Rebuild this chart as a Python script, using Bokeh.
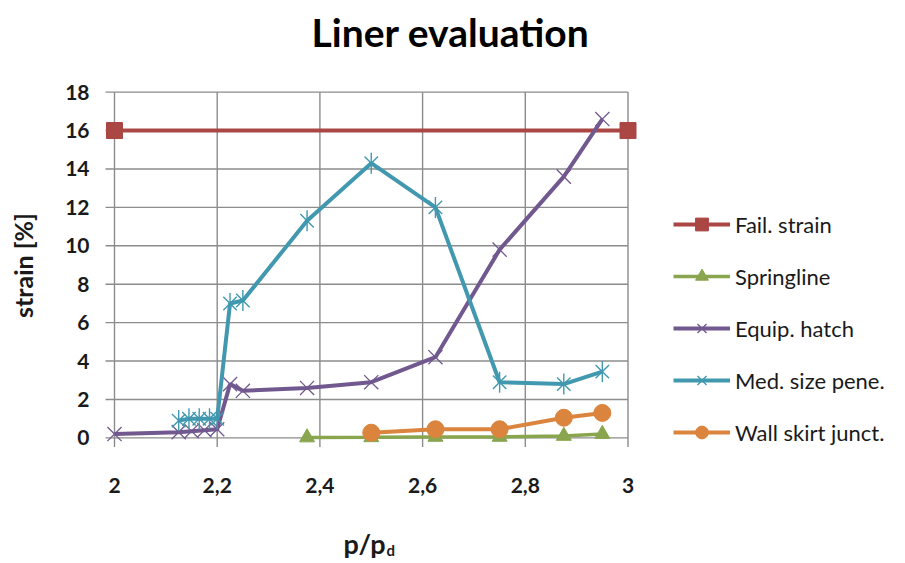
from bokeh.plotting import figure
from bokeh.models import Range1d, Label, Legend, LegendItem
from bokeh.core.properties import value
from bokeh.embed import file_html
from bokeh.resources import INLINE
import math

# ---------------- data ----------------
x_ticks = [2.0, 2.2, 2.4, 2.6, 2.8, 3.0]
x_tick_labels = ["2", "2,2", "2,4", "2,6", "2,8", "3"]
y_ticks = [0, 2, 4, 6, 8, 10, 12, 14, 16, 18]
y_tick_labels = ["0", "2", "4", "6", "8", "10", "12", "14", "16", "18"]

fail_x = [2.0, 3.0]
fail_y = [16.0, 16.0]

spring_x = [2.375, 2.5, 2.625, 2.75, 2.875, 2.95]
spring_y = [0.02, 0.03, 0.05, 0.05, 0.1, 0.2]

hatch_x = [2.0, 2.125, 2.15, 2.175, 2.2, 2.225, 2.25, 2.375, 2.5, 2.625, 2.75, 2.875, 2.95]
hatch_y = [0.2, 0.3, 0.35, 0.4, 0.45, 2.8, 2.45, 2.6, 2.9, 4.2, 9.8, 13.6, 16.6]

pene_x = [2.125, 2.145, 2.165, 2.185, 2.2, 2.225, 2.25, 2.375, 2.5, 2.625, 2.75, 2.875, 2.95]
pene_y = [0.9, 1.0, 1.0, 1.0, 1.0, 7.0, 7.15, 11.3, 14.3, 12.0, 2.9, 2.8, 3.45]

wall_x = [2.5, 2.625, 2.75, 2.875, 2.95]
wall_y = [0.27, 0.45, 0.45, 1.05, 1.3]

series_names = ["Fail. strain", "Springline", "Equip. hatch", "Med. size pene.", "Wall skirt junct."]
title_text = "Liner evaluation"
y_title = "strain [%]"
x_title_main = "p/p"
x_title_sub = "d"

# ---------------- styles ----------------
RED = "#AA4643"
GREEN = "#89A54E"
PURPLE = "#71588F"
CYAN = "#4198AF"
ORANGE = "#DB843D"
GRID = "#8C8C8C"
TXT = "#1a1a1a"
FONT = "Lato"

W, H = 905, 563
PX_X = 513.5   # pixels per x unit
PX_Y = 19.21   # pixels per y unit
X0_PX = 114.0  # pixel column of x = 2
Y0_PX = 437.4  # pixel row of y = 0


def dx(px):
    """pixel column -> data x"""
    return x_ticks[0] + (px - X0_PX) / PX_X


def dy(py):
    """pixel row -> data y"""
    return y_ticks[0] + (Y0_PX - py) / PX_Y


# the frame covers the whole canvas; axes are drawn by hand so nothing is clipped
p = figure(width=W, height=H, min_border=0,
           x_range=Range1d(dx(0), dx(W)), y_range=Range1d(dy(H), dy(0)),
           x_axis_location=None, y_axis_location=None,
           output_backend="svg", toolbar_location=None)
p.outline_line_color = None
p.xgrid.visible = False
p.ygrid.visible = False
p.background_fill_color = "white"
p.border_fill_color = "white"

# grid lines over the data box with short tick stubs outside it
nx = len(x_ticks)
ny = len(y_ticks)
stub_y = 9 / PX_Y
stub_x = 9 / PX_X
p.segment(x0=x_ticks, y0=[y_ticks[0] - stub_y] * nx, x1=x_ticks, y1=[y_ticks[-1]] * nx,
          line_color=GRID, line_width=1.4)
p.segment(x0=[x_ticks[0] - stub_x] * ny, y0=y_ticks, x1=[x_ticks[-1]] * ny, y1=y_ticks,
          line_color=GRID, line_width=1.4)

# tick labels
p.text(x=x_ticks, y=[dy(485)] * nx, text=x_tick_labels,
       text_align="center", text_baseline="middle",
       text_font=value(FONT), text_font_style="bold", text_font_size="21px", text_color=TXT)
p.text(x=[dx(89)] * ny, y=y_ticks, text=y_tick_labels,
       text_align="right", text_baseline="middle",
       text_font=value(FONT), text_font_style="bold", text_font_size="21px", text_color=TXT)

# series
l_fail = p.line(fail_x, fail_y, line_color=RED, line_width=4)
m_fail = p.scatter(fail_x, fail_y, marker="square", size=16, fill_color=RED, line_color=RED)

l_spr = p.line(spring_x, spring_y, line_color=GREEN, line_width=3.5)
m_spr = p.scatter(spring_x, spring_y, marker="triangle", size=15, fill_color=GREEN, line_color=GREEN)

l_hat = p.line(hatch_x, hatch_y, line_color=PURPLE, line_width=4)
m_hat = p.scatter(hatch_x, hatch_y, marker="x", size=20, line_color=PURPLE, line_width=1.3)

l_pen = p.line(pene_x, pene_y, line_color=CYAN, line_width=4)
m_pen1 = p.scatter(pene_x, pene_y, marker="x", size=19, line_color=CYAN, line_width=1.4)
m_pen2 = p.scatter(pene_x, pene_y, marker="dash", angle=math.pi / 2, size=21, line_color=CYAN, line_width=1.4)

l_wal = p.line(wall_x, wall_y, line_color=ORANGE, line_width=4)
m_wal = p.scatter(wall_x, wall_y, marker="circle", size=17, fill_color=ORANGE, line_color=ORANGE)

legend = Legend(items=[
    LegendItem(label=series_names[0], renderers=[l_fail, m_fail]),
    LegendItem(label=series_names[1], renderers=[l_spr, m_spr]),
    LegendItem(label=series_names[2], renderers=[l_hat, m_hat]),
    LegendItem(label=series_names[3], renderers=[l_pen, m_pen1, m_pen2]),
    LegendItem(label=series_names[4], renderers=[l_wal, m_wal]),
], location=(673, H - 448), glyph_width=57, glyph_height=32, label_height=32,
    spacing=20, padding=0, margin=0, label_standoff=5,
    label_text_font=FONT, label_text_font_size="22px", label_text_color=TXT,
    border_line_alpha=0, background_fill_alpha=0)
p.add_layout(legend)

# title, axis titles
p.add_layout(Label(x=dx(450), y=dy(31), text=title_text, text_align="center",
                   text_baseline="middle", text_font=FONT, text_font_style="bold",
                   text_font_size="39px", text_color="black"))
p.add_layout(Label(x=dx(22), y=dy(265), text=y_title, angle=math.pi / 2,
                   text_align="center", text_baseline="middle",
                   text_font=FONT, text_font_style="bold",
                   text_font_size="25px", text_color=TXT))
p.add_layout(Label(x=dx(385), y=dy(543), text=x_title_main, text_align="right",
                   text_baseline="middle", text_font=FONT, text_font_style="bold",
                   text_font_size="27px", text_color=TXT))
p.add_layout(Label(x=dx(386), y=dy(549), text=x_title_sub, text_align="left",
                   text_baseline="middle", text_font=FONT, text_font_style="bold",
                   text_font_size="15px", text_color=TXT))

open("out.html", "w").write(file_html(p, INLINE))
